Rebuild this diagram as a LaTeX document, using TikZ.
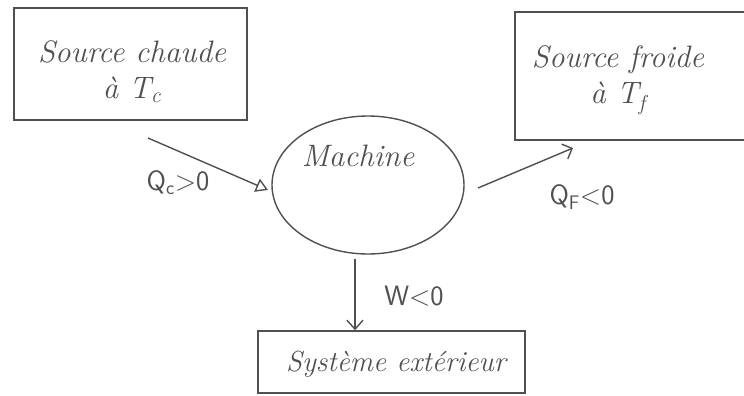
\documentclass[tikz,border=0pt]{standalone}
\usepackage{fontspec}
\setmainfont{Latin Modern Roman}
\setsansfont{Latin Modern Sans}
\usetikzlibrary{arrows.meta,shapes.geometric}
\definecolor{pencil}{RGB}{80,80,80}
\begin{document}
\begin{tikzpicture}[x=1pt,y=-1pt,
  box/.style={draw=pencil,line width=1.5pt,inner sep=0pt},
  lbl/.style={text=pencil,font=\fontsize{31}{36}\selectfont\itshape,align=center},
  qlbl/.style={text=pencil,font=\fontsize{28}{32}\selectfont\sffamily},
  flow/.style={draw=pencil,line width=1.4pt},
]
\useasboundingbox (0,0) rectangle (744,396);
% boxes
\node[box,minimum width=233pt,minimum height=112pt] (hot) at (130.5,64) {};
\node[lbl] (hott) at (132,72) {Source chaude\\[0pt] à T\textsubscript{c}};
\node[box,minimum width=240pt,minimum height=128pt] (cold) at (635,76) {};
\node[lbl] (coldt) at (618,80) {Source froide\\[0pt] à T\textsubscript{f}};
\node[draw=pencil,line width=1.4pt,ellipse,minimum width=192pt,minimum height=138pt] (mach) at (368,185) {};
\node[lbl,font=\fontsize{31}{36}\selectfont\itshape] (macht) at (358,156) {Machine};
\node[box,minimum width=267pt,minimum height=62pt] (ext) at (391.5,362) {};
\node[lbl,font=\fontsize{29}{34}\selectfont\itshape] (extt) at (396,364) {Système extérieur};
% arrows
\coordinate (qcs) at (148,138);
\coordinate (qce) at (268,190);
\draw[flow,-{Triangle[open,length=12pt,width=14pt,line width=1.4pt]}] (qcs) -- (qce);
\coordinate (qfs) at (478,188);
\coordinate (qfe) at (573,148);
\draw[flow,-{Straight Barb[length=8pt,width=16pt]}] (qfs) -- (qfe);
\draw[flow,-{Straight Barb[length=9pt,width=16pt]}] (mach.south) ++(-13,4) coordinate (ws) -- (ws |- ext.north);
% labels
\node[qlbl] (qcl) at (178,183) {Q\textsubscript{c}>0};
\node[qlbl] (qfl) at (582,197) {Q\textsubscript{F}<0};
\node[qlbl] (wl) at (414,296) {W<0};
\end{tikzpicture}
\end{document}
